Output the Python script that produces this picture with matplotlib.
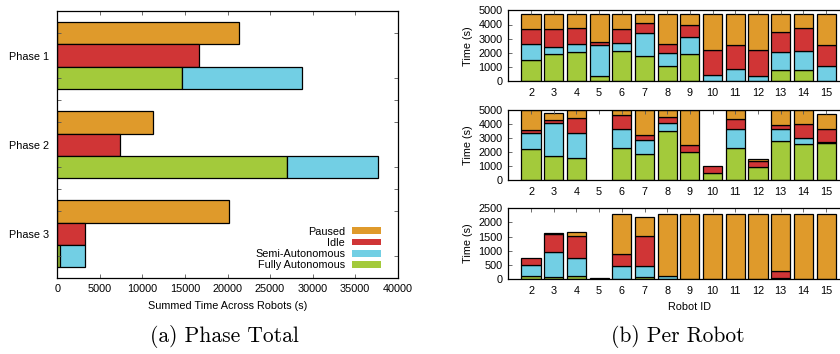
import numpy as np
import matplotlib
matplotlib.use("Agg")
import matplotlib.pyplot as plt
from matplotlib.patches import Patch

plt.rcParams['font.family'] = ['Liberation Sans', 'DejaVu Sans']
plt.rcParams['font.size'] = 7.8

# modes, bottom of the stack first
modes = ["Fully Autonomous", "Semi-Autonomous", "Idle", "Paused"]
colors = {"Fully Autonomous": "#a3ca3b",
          "Semi-Autonomous": "#72cfe4",
          "Idle": "#d03536",
          "Paused": "#df9a2b"}

# summed time per phase (s)
phases = ["Phase 1", "Phase 2", "Phase 3"]
sum_fully = [14700, 27000, 350]
sum_semi = [14100, 10650, 2950]
sum_idle = [16700, 7370, 3300]
sum_paused = [21300, 11250, 20150]

# per robot time (s), one list per phase
robots = np.arange(2, 16)
p1_fully = [1480, 1920, 2040, 350, 2110, 1810, 1100, 1900, 0, 0, 0, 820, 820, 0]
p1_semi = [1130, 500, 610, 2190, 570, 1590, 870, 1250, 450, 850, 380, 1270, 1320, 1100]
p1_idle = [1050, 1240, 1130, 230, 980, 680, 680, 790, 1780, 1730, 1850, 1360, 1640, 1480]
p1_paused = [1080, 1080, 960, 1970, 1080, 660, 2090, 800, 2510, 2160, 2510, 1290, 960, 2160]

p2_fully = [2230, 1710, 1560, 0, 2270, 1900, 3530, 1990, 500, 2300, 920, 2820, 2560, 2650]
p2_semi = [1160, 2340, 1800, 0, 1400, 990, 520, 0, 0, 1350, 0, 810, 430, 50]
p2_idle = [190, 240, 1050, 0, 950, 310, 480, 520, 500, 730, 480, 280, 1040, 930]
p2_paused = [1420, 470, 590, 0, 380, 1800, 470, 2490, 0, 620, 140, 1090, 970, 1090]

p3_fully = [120, 60, 90, 0, 0, 80, 0, 0, 0, 0, 0, 0, 0, 0]
p3_semi = [380, 900, 650, 0, 460, 390, 90, 0, 0, 0, 0, 50, 0, 0]
p3_idle = [230, 640, 790, 20, 410, 1040, 0, 0, 0, 0, 0, 220, 0, 0]
p3_paused = [0, 20, 120, 0, 1430, 670, 2210, 2300, 2300, 2300, 2300, 2030, 2300, 2300]

W, H = 840, 354
fig = plt.figure(figsize=(W / 100, H / 100), dpi=100)


def px_axes(left, top, right, bottom):
    return fig.add_axes([left / W, 1 - bottom / H, (right - left) / W, (bottom - top) / H])


def style_ticks(ax):
    ax.tick_params(direction='in', length=3, width=0.6, color='#555555', pad=4)
    for s in ax.spines.values():
        s.set_linewidth(0.9)


edge = dict(edgecolor='black', linewidth=0.9)

# ------------------- (a) summed time per phase -------------------
ax = px_axes(57.3, 11, 397.7, 278.3)
base = np.arange(len(phases)) * 4
ax.barh(base + 1, sum_paused, height=1.0, color=colors["Paused"], **edge)
ax.barh(base + 2, sum_idle, height=1.0, color=colors["Idle"], **edge)
ax.barh(base + 3, sum_fully, height=1.0, color=colors["Fully Autonomous"], **edge)
ax.barh(base + 3, sum_semi, left=sum_fully, height=1.0, color=colors["Semi-Autonomous"], **edge)
ax.set_xlim(0, 40000)
ax.set_ylim(12, 0)
ax.set_xticks(np.arange(0, 40001, 5000))
ax.set_yticks(base + 2)
ax.set_yticklabels(phases)
ax.set_yticks(np.arange(1, 12), minor=True)
ax.tick_params(axis='y', which='both', left=True, right=True)
ax.tick_params(axis='x', top=True)
style_ticks(ax)
ax.tick_params(axis='y', which='minor', direction='in', length=3, width=0.6, color='#555555')
ax.tick_params(axis='y', which='major', length=0, pad=6)
ax.set_xlabel("Summed Time Across Robots (s)", labelpad=5)

handles = [Patch(facecolor=colors[m], edgecolor='none') for m in modes[::-1]]
ax.legend(handles, modes[::-1], loc='lower right', bbox_to_anchor=(0.97, 0.005),
          frameon=False, markerfirst=False, handlelength=2.7, handleheight=0.55,
          handletextpad=0.6, labelspacing=0.12, borderaxespad=0.2)

# ------------------- (b) per robot -------------------
panels = [
    (p1_fully, p1_semi, p1_idle, p1_paused, 5000, 1000, 10.3, 81.3),
    (p2_fully, p2_semi, p2_idle, p2_paused, 5000, 1000, 110, 180.3),
    (p3_fully, p3_semi, p3_idle, p3_paused, 2500, 500, 208.3, 279),
]
unit = 22.7
x0_px = 508.3
for i, (fa, sa, idle, paused, ymax, ystep, top, bottom) in enumerate(panels):
    # axes run on past the right edge of the figure
    axr = px_axes(x0_px, top, x0_px + 16 * unit, bottom)
    bottom_acc = np.zeros(len(robots))
    for name, vals in zip(modes, [fa, sa, idle, paused]):
        vals = np.array(vals, dtype=float)
        keep = vals > 0  # skip empty segments
        axr.bar(robots[keep], vals[keep], width=0.84, bottom=bottom_acc[keep],
                color=colors[name], **edge)
        bottom_acc += vals
    axr.set_xlim(1, 17)
    axr.set_ylim(0, ymax)
    axr.set_xticks(robots)
    axr.set_yticks(np.arange(0, ymax + 1, ystep))
    axr.tick_params(axis='x', top=True, bottom=False)
    style_ticks(axr)
    axr.tick_params(axis='x', bottom=False, pad=5)
    axr.set_ylabel("Time (s)", labelpad=4)
    if i == 2:
        axr.set_xlabel("Robot ID", labelpad=4)

# captions
fig.text(224 / W, 1 - 336 / H, "(a) Phase Total", family='cmr10', fontsize=15.5,
         ha='center', va='center')
fig.text(678 / W, 1 - 336 / H, "(b) Per Robot", family='cmr10', fontsize=15.5,
         ha='center', va='center')

fig.savefig("out.png", dpi=100)
